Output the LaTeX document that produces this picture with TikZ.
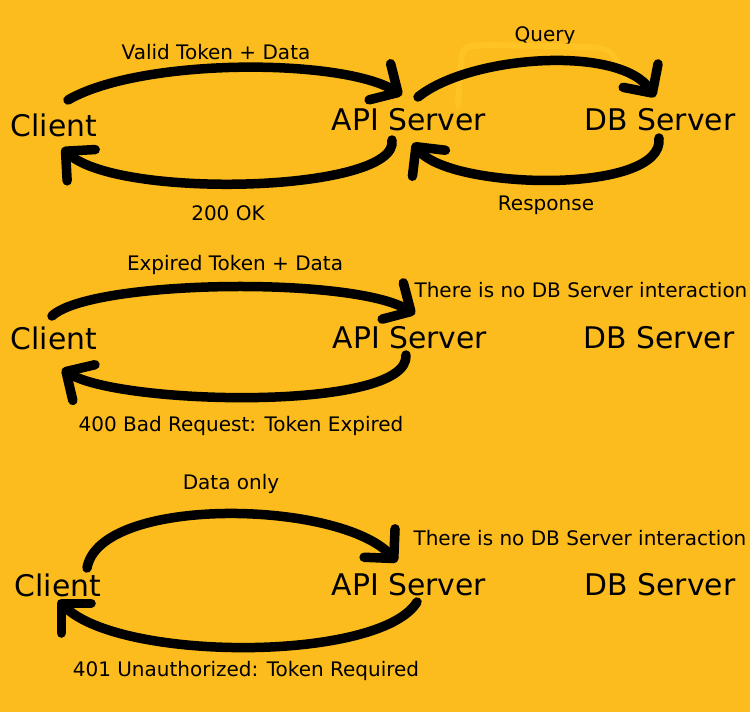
\documentclass[tikz,border=0pt]{standalone}
\usepackage{fontspec}
\setmainfont{DejaVu Sans}
\usetikzlibrary{arrows.meta}
\definecolor{bgorange}{HTML}{FDBC1E}
\definecolor{faintyellow}{HTML}{FFC424}

\begin{document}
\begin{tikzpicture}
    [x=1pt, y=-1pt,
    big/.style={font=\fontsize{29.8}{32}\selectfont, inner sep=0pt},
    small/.style={font=\fontsize{20}{23}\selectfont, inner sep=0pt},
    hand/.style={line width=9.5pt, line cap=round, line join=round,
        -{Straight Barb[length=21pt, width=42pt, line cap=round, line join=round]}}]

\fill[bgorange] (0,0) rectangle (750,712);
\useasboundingbox (0,0) rectangle (750,712);

% valid token
\node[big] (client1) at (54,125) {Client};
\node[big] (api1) at (409,120) {API Server};
\node[big] (db1) at (660,120) {DB Server};
\node[small] (valid) at (216,52) {Valid Token + Data};
\node[small] (query) at (545,36) {Query};
\node[small] (ok) at (228,213) {200 OK};
\node[small] (response) at (546,205) {Response};

\coordinate (c1out) at (68,100);
\coordinate (a1in) at (402,95);
\coordinate (a1out) at (392,140);
\coordinate (c1in) at (62,148);
\coordinate (a1q) at (418,97);
\coordinate (d1in) at (655,97);
\coordinate (d1out) at (659,138);
\coordinate (a1r) at (413,143);

\draw[faintyellow, line width=6pt, line cap=round, line join=round]
    (458,105) -- (461,62) .. controls (463,46) .. (490,45) -- (588,47)
    .. controls (612,49) .. (625,78);
\draw[hand] (c1out) .. controls (140,58) and (340,58) .. (a1in);
\draw[hand] (a1out) .. controls (400,192) and (120,200) .. (c1in);
\draw[hand] (a1q) .. controls (470,55) and (620,45) .. (d1in);
\draw[hand] (d1out) .. controls (665,195) and (450,190) .. (a1r);

% expired token
\node[big] (client2) at (54,338) {Client};
\node[big] (api2) at (410,338) {API Server};
\node[big] (db2) at (659,338) {DB Server};
\node[small] (expired) at (235,265) {Expired Token + Data};
\node[small] (nodb2) at (581,290) {There is no DB Server interaction};
\node[small] (bad) at (241,426) {400 Bad Request: Token Expired};

\coordinate (c2out) at (52,316);
\coordinate (a2in) at (415,314);
\coordinate (a2out) at (406,355);
\coordinate (c2in) at (62,369);

\draw[hand] (c2out) .. controls (90,280) and (350,276) .. (a2in);
\draw[hand] (a2out) .. controls (410,412) and (120,405) .. (c2in);

% no token
\node[big] (client3) at (58,585) {Client};
\node[big] (api3) at (409,585) {API Server};
\node[big] (db3) at (660,585) {DB Server};
\node[small] (dataonly) at (231,484) {Data only};
\node[small] (nodb3) at (580,538) {There is no DB Server interaction};
\node[small] (unauth) at (246,671) {401 Unauthorized: Token Required};

\coordinate (c3out) at (87,568);
\coordinate (a3in) at (397,562);
\coordinate (a3out) at (417,602);
\coordinate (c3in) at (58,600);

\draw[hand] (c3out) .. controls (100,495) and (340,500) .. (a3in);
\draw[hand] (a3out) .. controls (380,662) and (120,662) .. (c3in);
\end{tikzpicture}
\end{document}
